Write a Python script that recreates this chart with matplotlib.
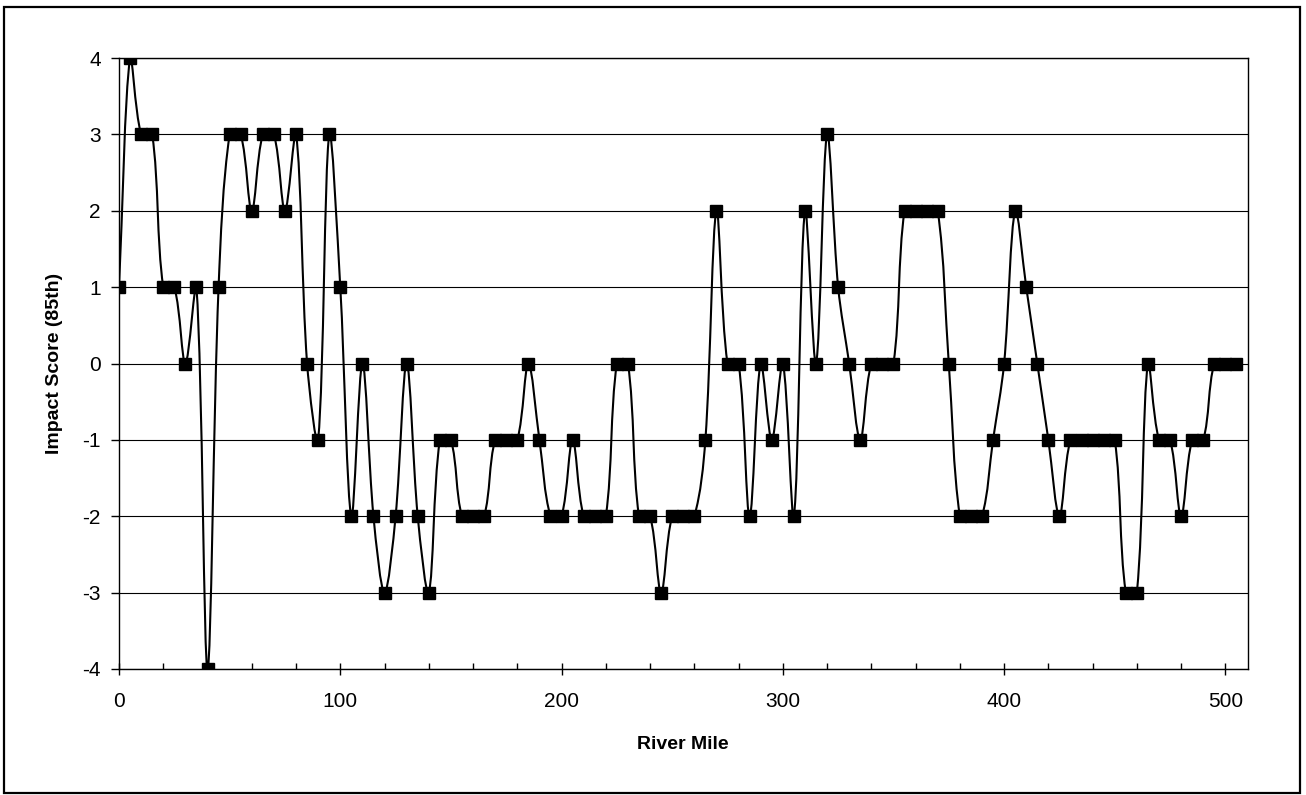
import numpy as np
import matplotlib
matplotlib.use("Agg")
import matplotlib.pyplot as plt
from matplotlib.path import Path
from matplotlib.patches import PathPatch, Rectangle
from matplotlib.ticker import MultipleLocator

plt.rcParams['font.family'] = ['Liberation Sans', 'DejaVu Sans']
plt.rcParams['axes.unicode_minus'] = False

# River mile stations and impact scores (85th percentile)
river_mile = list(range(0, 510, 5))
impact_score = [
    1, 4, 3, 3, 1, 1, 0, 1, -4, 1,
    3, 3, 2, 3, 3, 2, 3, 0, -1, 3,
    1, -2, 0, -2, -3, -2, 0, -2, -3, -1,
    -1, -2, -2, -2, -1, -1, -1, 0, -1, -2,
    -2, -1, -2, -2, -2, 0, 0, -2, -2, -3,
    -2, -2, -2, -1, 2, 0, 0, -2, 0, -1,
    0, -2, 2, 0, 3, 1, 0, -1, 0, 0,
    0, 2, 2, 2, 2, 0, -2, -2, -2, -1,
    0, 2, 1, 0, -1, -2, -1, -1, -1, -1,
    -1, -3, -3, 0, -1, -1, -2, -1, -1, 0,
    0, 0,
]
y_ticks = list(range(-4, 5))
x_ticks = [0, 100, 200, 300, 400, 500]


def smooth_path(ax, x, y):
    """Smoothed Bezier path through the points, built in display space with
    tangents weighted by neighbouring segment lengths (limits overshoot)."""
    pts = ax.transData.transform(np.column_stack([x, y]).astype(float))
    n = len(pts)
    seg = np.hypot(*np.diff(pts, axis=0).T)
    verts = [pts[0]]
    codes = [Path.MOVETO]
    for i in range(n - 1):
        p0 = pts[i - 1] if i > 0 else pts[i]
        p1, p2 = pts[i], pts[i + 1]
        p3 = pts[i + 2] if i + 2 < n else pts[i + 1]
        l0 = seg[i - 1] if i > 0 else 0.0
        l1 = seg[i]
        l2 = seg[i + 1] if i + 2 < n else 0.0
        w1 = l1 / (l0 + l1) if (l0 + l1) > 0 else 0.0
        w2 = l1 / (l1 + l2) if (l1 + l2) > 0 else 0.0
        c1 = p1 + (p2 - p0) * w1 / 3.0
        c2 = p2 - (p3 - p1) * w2 / 3.0
        verts.extend([c1, c2, p2])
        codes.extend([Path.CURVE4] * 3)
    verts = ax.transData.inverted().transform(np.array(verts))
    return Path(verts, codes)


fig = plt.figure(figsize=(13.06, 7.95), dpi=100)
ax = fig.add_axes([119 / 1306, 1 - 669 / 795, (1247.5 - 119) / 1306, (669 - 58) / 795])

ax.set_xlim(0, 510)
ax.set_ylim(-4, 4)
ax.set_xticks(x_ticks)
ax.xaxis.set_minor_locator(MultipleLocator(20))
ax.set_yticks(y_ticks)

# horizontal gridlines
for v in y_ticks:
    ax.axhline(v, color='black', lw=0.8, zorder=1)

ax.add_patch(PathPatch(smooth_path(ax, river_mile, impact_score), facecolor='none',
                       edgecolor='black', lw=1.5, zorder=2))
ax.plot(river_mile, impact_score, linestyle='none', marker='s', markersize=8,
        color='black', zorder=3)

for s in ax.spines.values():
    s.set_linewidth(1.0)
    s.set_color('black')

ax.tick_params(axis='y', which='major', direction='out', length=6, width=1,
               labelsize=15, pad=7)
ax.tick_params(axis='x', which='major', direction='inout', length=9, width=1,
               labelsize=15, pad=12)
ax.tick_params(axis='x', which='minor', direction='in', length=4, width=1)

ax.set_ylabel('Impact Score (85th)', fontsize=14, fontweight='bold', labelpad=14)
ax.set_xlabel('River Mile', fontsize=14, fontweight='bold', labelpad=18)

# chart-area border
fig.patches.append(Rectangle((4 / 1306, 2 / 795), 1296 / 1306, 786 / 795,
                             transform=fig.transFigure, fill=False,
                             edgecolor='black', lw=1.6))

fig.savefig('out.png', dpi=100)
